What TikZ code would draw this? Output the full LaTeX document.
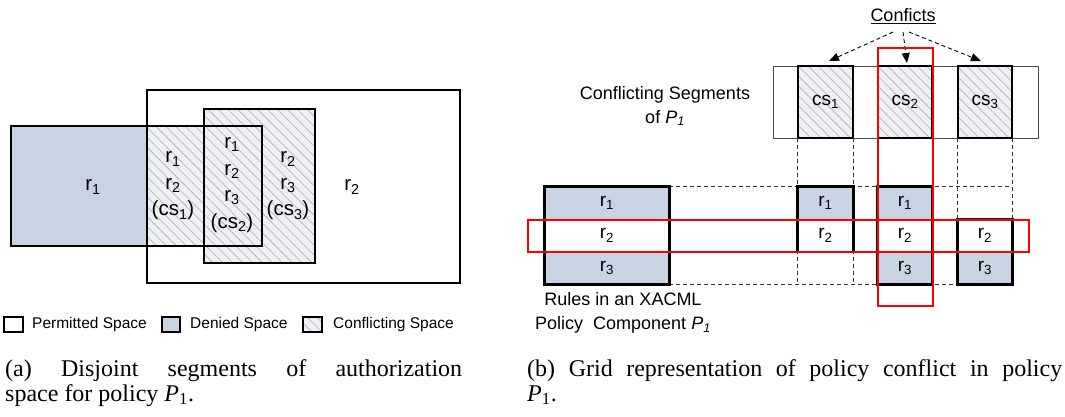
\documentclass[tikz,border=0pt]{standalone}
\usepackage{fontspec}
\setmainfont{Liberation Serif}
\setsansfont{Liberation Sans}
\usetikzlibrary{patterns.meta,arrows.meta}
\definecolor{denied}{HTML}{C8D4E3}
\definecolor{hatchbg}{HTML}{EEF0F3}
\definecolor{hatchln}{HTML}{B4B9C0}
\definecolor{redbox}{HTML}{FF0000}
\tikzset{
  hatch/.style={preaction={fill=hatchbg}, pattern={Lines[angle=-45,distance=7pt,line width=0.8pt]}, pattern color=hatchln},
  biglbl/.style={font=\fontsize{20.5}{26.5}\selectfont\sffamily, align=center, inner sep=0pt},
  lbl/.style={font=\fontsize{18}{24}\selectfont\sffamily, align=center, inner sep=0pt},
  legtext/.style={font=\fontsize{15.5}{18}\selectfont\sffamily, anchor=west, inner sep=0pt},
  captext/.style={font=\fontsize{24}{26}\selectfont\rmfamily, anchor=base west, inner sep=0pt},
  cellbox/.style={draw, line width=0.8pt, minimum width=#1, minimum height=32.3pt, inner sep=0pt, font=\fontsize{19}{22}\selectfont\sffamily},
  gridline/.style={draw=black!80, line width=0.8pt, dash pattern=on 4pt off 3pt},
  redline/.style={draw=redbox, line width=2pt},
  confarrow/.style={line width=0.9pt, dash pattern=on 4pt off 3pt, -{Triangle[length=10pt,width=8pt]}},
  csbox/.style={hatch, minimum width=#1, minimum height=72pt, inner sep=0pt, font=\fontsize{19}{22}\selectfont\sffamily},
}
\begin{document}
\begin{tikzpicture}[x=1pt,y=-1pt]
\useasboundingbox (0,0) rectangle (1065,416);

% ---------------- Panel (a) ----------------
\fill[white] (147,90) rectangle (460,283);
\fill[denied] (11,126) rectangle (147,246);
\path[hatch] (147,126) rectangle (262,246);
\path[hatch] (204,109) rectangle (315,263);
\draw[line width=2pt] (147,90) rectangle (460,283);
\draw[line width=2pt] (11,126) rectangle (262,246);
\draw[line width=2pt] (204,109) rectangle (315,263);

\node[biglbl] (ar1) at (93,187) {r\textsubscript{1}};
\node[biglbl] (acs1) at (173,186) {r\textsubscript{1}\\r\textsubscript{2}\\(cs\textsubscript{1})};
\node[biglbl] (acs2) at (232,185) {r\textsubscript{1}\\r\textsubscript{2}\\r\textsubscript{3}\\(cs\textsubscript{2})};
\node[biglbl] (acs3) at (288,186) {r\textsubscript{2}\\r\textsubscript{3}\\(cs\textsubscript{3})};
\node[biglbl] (ar2) at (352,187) {r\textsubscript{2}};

% legend
\draw[line width=1.2pt, fill=white] (4,317) rectangle (23,332);
\node[legtext] (lp) at (32,324) {Permitted Space};
\draw[line width=1.2pt, fill=denied] (162,317) rectangle (180,332);
\node[legtext] (ld) at (190,324) {Denied Space};
\path[hatch] (303,317) rectangle (322,332);
\draw[line width=1.2pt] (303,317) rectangle (322,332);
\node[legtext] (lc) at (333,324) {Conflicting Space};

% caption (a)
\node[captext] (capa1) at (5,376) {\makebox[457pt][s]{(a) Disjoint segments of authorization}};
\node[captext] (capa2) at (5,401) {space for policy \textit{P}\textsubscript{1}.};

% ---------------- Panel (b) ----------------
\node[lbl] (cstitle) at (665,106) {Conflicting Segments\\of \textit{P\textsubscript{1}}};
\draw[draw=black!70, line width=1pt] (773,66) rectangle (1038,138);
\node[csbox=55pt] (cs1) at (825.5,102) {cs\textsubscript{1}};
\node[csbox=54pt] (cs2) at (905,102) {cs\textsubscript{2}};
\node[csbox=54pt] (cs3) at (985,102) {cs\textsubscript{3}};
\draw[line width=2.4pt] (cs1.north west) rectangle (cs1.south east);
\draw[line width=2.4pt] (cs2.north west) rectangle (cs2.south east);
\draw[line width=2.4pt] (cs3.north west) rectangle (cs3.south east);

% conflicts label and arrows
\node[lbl] (conf) at (903,16) {\underline{Conficts}};
\coordinate (s1) at (893,32);
\coordinate (s2) at (903,32);
\coordinate (s3) at (909,32);
\coordinate (e1) at (829,61);
\coordinate (e2) at (907,63);
\coordinate (e3) at (981,61);
\draw[confarrow] (s1) -- (e1);
\draw[confarrow] (s2) -- (e2);
\draw[confarrow] (s3) -- (e3);

% rule cells (left)
\node[cellbox=124pt, fill=denied] (L1) at (607,203.2) {r\textsubscript{1}};
\node[cellbox=124pt, fill=white] (L2) at (607,235.5) {r\textsubscript{2}};
\node[cellbox=124pt, fill=denied] (L3) at (607,267.8) {r\textsubscript{3}};

% dashed grid
\coordinate (gR) at (1012,0);
\draw[gridline] (L1.north east) -- (L1.north east -| gR);
\draw[gridline] (L2.north east) -- (L2.north east -| gR);
\draw[gridline] (L3.north east) -- (L3.north east -| gR);
\draw[gridline] (L3.south east) -- (L3.south east -| gR);
\draw[gridline] (cs1.south west) -- (cs1.south west |- L3.south);
\draw[gridline] (cs1.south east) -- (cs1.south east |- L3.south);
\draw[gridline] (cs2.south west) -- (cs2.south west |- L3.south);
\draw[gridline] (cs2.south east) -- (cs2.south east |- L3.south);
\draw[gridline] (cs3.south west) -- (cs3.south west |- L3.south);
\draw[gridline] (cs3.south east) -- (cs3.south east |- L3.south);

% column cells
\node[cellbox=55pt, fill=denied] (A1) at (825.5,203.2) {r\textsubscript{1}};
\node[cellbox=55pt, fill=white] (A2) at (825.5,235.5) {r\textsubscript{2}};
\node[cellbox=54pt, fill=denied] (B1) at (905,203.2) {r\textsubscript{1}};
\node[cellbox=54pt, fill=white] (B2) at (905,235.5) {r\textsubscript{2}};
\node[cellbox=54pt, fill=denied] (B3) at (905,267.8) {r\textsubscript{3}};
\node[cellbox=54pt, fill=white] (C2) at (985,235.5) {r\textsubscript{2}};
\node[cellbox=54pt, fill=denied] (C3) at (985,267.8) {r\textsubscript{3}};

\draw[line width=2.4pt] (L1.north west) rectangle (L3.south east);
\draw[line width=2.4pt] (A1.north west) rectangle (A2.south east);
\draw[line width=2.4pt] (B1.north west) rectangle (B3.south east);
\draw[line width=2.4pt] (C2.north west) rectangle (C3.south east);

% rule label
\node[lbl] (rules) at (623,313) {Rules in an XACML\\Policy\ \ Component \textit{P\textsubscript{1}}};

% red highlight rectangles
\draw[redline] (528,220) rectangle (1029,252);
\draw[redline] (878,48) rectangle (933,306);

% caption (b)
\node[captext] (capb1) at (527,376) {\makebox[535pt][s]{(b) Grid representation of policy conflict in policy}};
\node[captext] (capb2) at (527,401) {\textit{P}\textsubscript{1}.};
\end{tikzpicture}
\end{document}
